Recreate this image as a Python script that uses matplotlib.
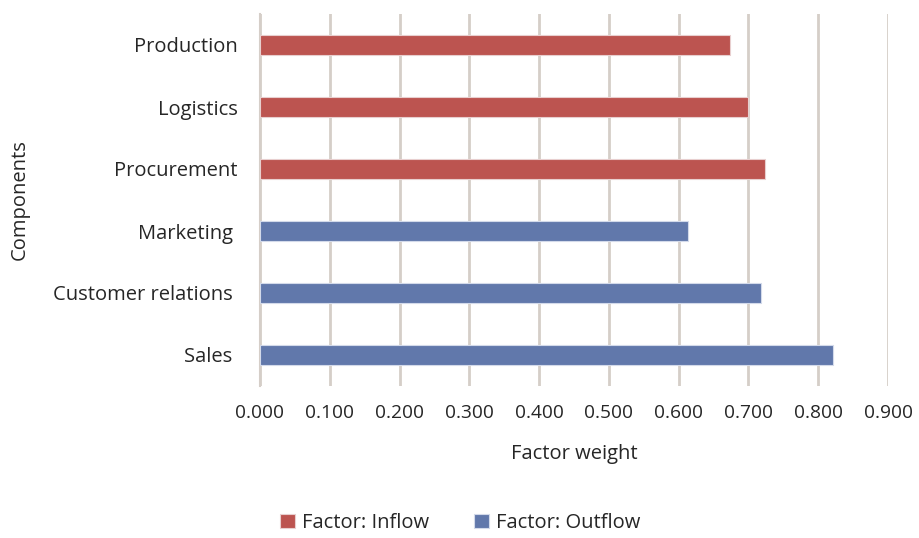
import matplotlib
matplotlib.use("Agg")
import matplotlib.pyplot as plt
import numpy as np

categories = ["Sales ", "Customer relations ", "Marketing ", "Procurement", "Logistics", "Production"]
inflow_cats = ["Procurement", "Logistics", "Production"]
inflow_vals = [0.724, 0.700, 0.673]
outflow_cats = ["Sales ", "Customer relations ", "Marketing "]
outflow_vals = [0.821, 0.718, 0.614]
xticks = [0.0, 0.1, 0.2, 0.3, 0.4, 0.5, 0.6, 0.7, 0.8, 0.9]

plt.rcParams['font.family'] = ['Open Sans', 'DejaVu Sans']
FS = 14.5
TXT = '#262626'

fig = plt.figure(figsize=(9.19, 5.38), dpi=100)
ax = fig.add_axes([260/919, 1-386/538, 628/919, 372/538])

pos = {c: i for i, c in enumerate(categories)}
red = '#BC5450'
blue = '#6178AB'
ax.barh([pos[c] for c in inflow_cats], inflow_vals, height=0.31, color=red,
        edgecolor='#E8CFCF', linewidth=0.8, label='Factor: Inflow', zorder=3)
ax.barh([pos[c] for c in outflow_cats], outflow_vals, height=0.31, color=blue,
        edgecolor='#D3DAEA', linewidth=0.8, label='Factor: Outflow', zorder=3)

ax.set_xlim(0, 0.9)
ax.set_ylim(-0.5, len(categories) - 0.5)
ax.set_xticks(xticks)
ax.set_xticklabels([f"{v:.3f}" for v in xticks], fontsize=13.8, color=TXT)
ax.set_yticks(range(len(categories)))
ax.set_yticklabels(categories, fontsize=FS, color=TXT)
ax.tick_params(axis='both', length=0)
ax.tick_params(axis='x', pad=13)
ax.tick_params(axis='y', pad=16)

ax.xaxis.grid(True, color='#D5CEC8', linewidth=2, zorder=0)
for s in ['top', 'right', 'bottom']:
    ax.spines[s].set_visible(False)
ax.spines['left'].set_color('#D5CEC8')
ax.spines['left'].set_linewidth(1.5)

ax.set_xlabel("Factor weight", fontsize=FS, color=TXT, labelpad=16)
fig.text(20/919, 1-200/538, "Components", rotation=90, fontsize=FS,
         color=TXT, ha='center', va='center')

fig.legend(loc='center', bbox_to_anchor=(460/919, 1-523/538), ncol=2, frameon=False,
           fontsize=FS, handlelength=0.75, handleheight=0.75, columnspacing=2.2,
           handletextpad=0.35, labelcolor=TXT)

fig.savefig("out.png", dpi=100, facecolor='white')
